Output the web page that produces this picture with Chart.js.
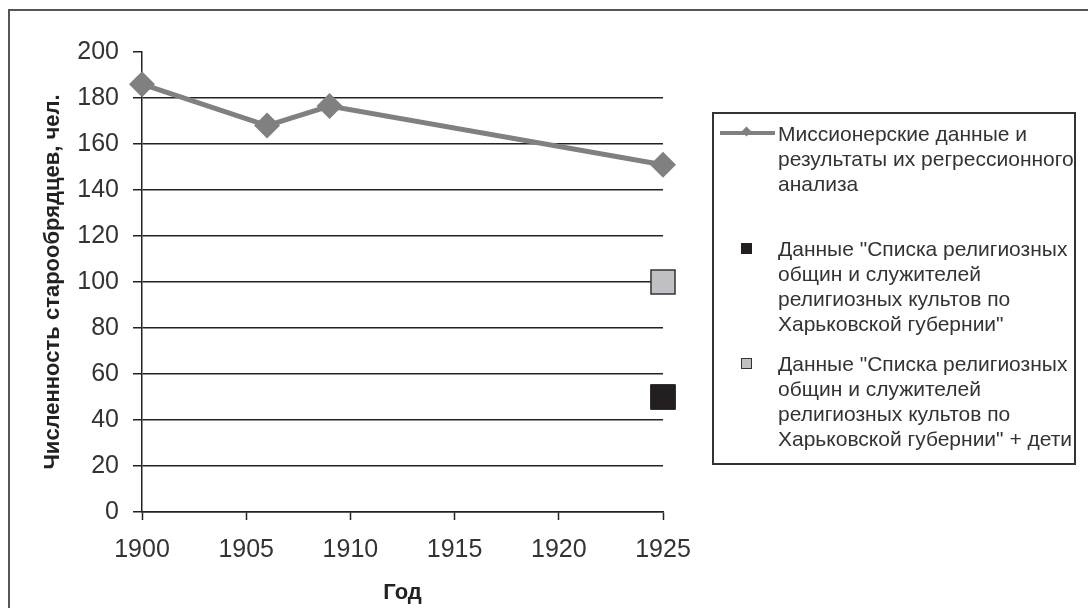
<!DOCTYPE html>
<html>
<head>
<meta charset="utf-8">
<script src="https://cdn.jsdelivr.net/npm/chart.js@4.4.1/dist/chart.umd.min.js"></script>
<style>
  body { margin: 0; background: #fff; }
  #wrap { position: relative; width: 1088px; height: 608px; overflow: hidden; font-family: "Liberation Sans", Arial, sans-serif; }
  #frame { position: absolute; left: 8px; top: 9px; width: 1100px; height: 620px; border: 2px solid #555; }
  #chart { position: absolute; left: 0; top: 0; }
  #legend { position: absolute; left: 712px; top: 112px; width: 360px; height: 349px; border: 2px solid #333; color: #333; font-size: 21px; line-height: 25px; }
  .item { display: flex; }
  .sw { width: 64px; flex: none; position: relative; }
  .txt { white-space: pre; }
  .line-sw { position: absolute; left: 6px; top: 10px; width: 55px; height: 4px; background: #808080; }
  .line-sw i { position: absolute; left: 23px; top: -3px; width: 7px; height: 7px; background: #808080; transform: rotate(45deg); }
  .sq-sw { position: absolute; left: 27px; top: 7px; width: 11px; height: 11px; box-sizing: border-box; }
</style>
</head>
<body>
<div id="wrap">
  <div id="frame"></div>
  <canvas id="chart" width="1088" height="608"></canvas>
  <div id="legend"></div>
</div>
<script>
// data
const years = [1900, 1906, 1909, 1925];
const missionary = [186, 168, 176.5, 151];
const listYears = [1925];
const listValues = [50];
const listChildrenValues = [100];

const seriesLabels = [
  'Миссионерские данные и\nрезультаты их регрессионного\nанализа',
  'Данные "Списка религиозных\nобщин и служителей\nрелигиозных культов по\nХарьковской губернии"',
  'Данные "Списка религиозных\nобщин и служителей\nрелигиозных культов по\nХарьковской губернии" + дети'
];
const xTitle = 'Год';
const yTitle = 'Численность старообрядцев, чел.';

const toPoints = (xs, ys) => xs.map((x, i) => ({ x: x, y: ys[i] }));

const axisColor = '#222';
const textColor = '#333';

const data = {
  datasets: [
    {
      label: seriesLabels[0],
      data: toPoints(years, missionary),
      borderColor: '#808080',
      backgroundColor: '#808080',
      borderWidth: 5,
      pointStyle: 'rectRot',
      pointRadius: 13,
      pointBorderWidth: 0,
      showLine: true,
      clip: false
    },
    {
      label: seriesLabels[1],
      data: toPoints(listYears, listValues),
      backgroundColor: '#231f20',
      borderColor: '#231f20',
      pointStyle: 'rect',
      pointRadius: 17.5,
      pointBorderWidth: 1,
      showLine: false,
      clip: false
    },
    {
      label: seriesLabels[2],
      data: toPoints(listYears, listChildrenValues),
      backgroundColor: '#c0c0c4',
      borderColor: '#333',
      pointStyle: 'rect',
      pointRadius: 17,
      pointBorderWidth: 1.5,
      showLine: false,
      clip: false
    }
  ]
};

const config = {
  type: 'scatter',
  data: data,
  options: {
    responsive: false,
    animation: false,
    layout: { padding: { left: 0, right: 425, top: 52, bottom: 0 } },
    plugins: { legend: { display: false }, tooltip: { enabled: false } },
    scales: {
      x: {
        type: 'linear',
        min: 1900,
        max: 1925,
        ticks: { stepSize: 5, color: textColor, font: { size: 25 }, padding: 15, callback: v => String(v) },
        grid: { drawOnChartArea: false, drawTicks: true, tickLength: 8, tickColor: axisColor, tickWidth: 1.5 },
        border: { color: axisColor, width: 1.5 },
        title: { display: true, text: xTitle, color: axisColor, font: { size: 22, weight: 'bold' }, padding: { top: 2, bottom: 2 } },
        afterFit: s => { s.height = 96; }
      },
      y: {
        min: 0,
        max: 200,
        ticks: { stepSize: 20, color: textColor, font: { size: 25 }, padding: 14, callback: v => String(v) },
        grid: {
          color: c => (c.tick && c.tick.value === 200) ? 'rgba(0,0,0,0)' : axisColor,
          lineWidth: 1.5,
          tickColor: axisColor,
          tickLength: 9,
          tickWidth: 1.5
        },
        border: { color: axisColor, width: 1.5 },
        title: { display: true, text: yTitle, color: axisColor, font: { size: 22, weight: 'bold' }, padding: { top: 40, bottom: 0 } },
        afterFit: s => { s.width = 142; }
      }
    }
  }
};

const chart = new Chart(document.getElementById('chart'), config);

// html legend built from dataset labels
const legend = document.getElementById('legend');
const gaps = [7, 40, 15];
chart.data.datasets.forEach((ds, i) => {
  const item = document.createElement('div');
  item.className = 'item';
  item.style.marginTop = gaps[i] + 'px';
  const sw = document.createElement('div');
  sw.className = 'sw';
  if (ds.showLine) {
    sw.innerHTML = '<div class="line-sw"><i></i></div>';
  } else {
    const sq = document.createElement('div');
    sq.className = 'sq-sw';
    sq.style.background = ds.backgroundColor;
    sq.style.border = '1px solid ' + ds.borderColor;
    sw.appendChild(sq);
  }
  const txt = document.createElement('div');
  txt.className = 'txt';
  txt.textContent = ds.label;
  item.appendChild(sw);
  item.appendChild(txt);
  legend.appendChild(item);
});
</script>
</body>
</html>
